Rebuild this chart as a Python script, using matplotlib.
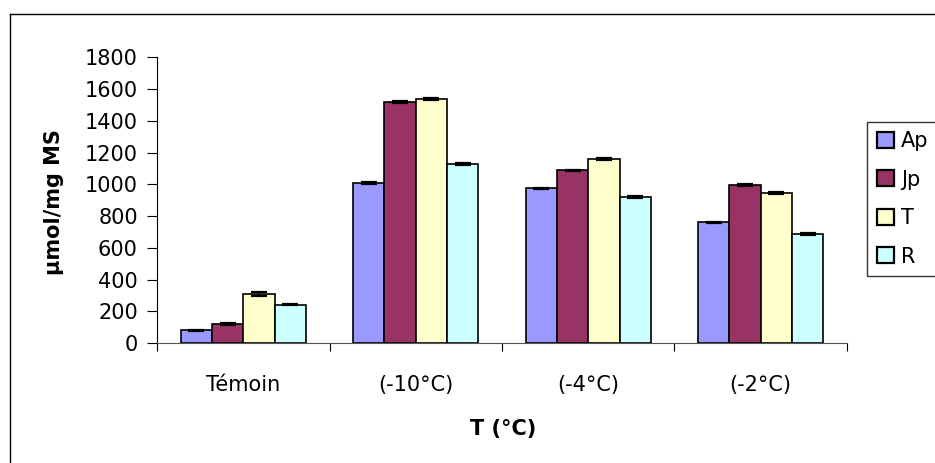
import matplotlib
matplotlib.use("Agg")
import matplotlib.pyplot as plt
import numpy as np
from matplotlib.lines import Line2D

plt.rcParams['font.family'] = ['DejaVu Sans']

categories = ["Témoin", "(-10°C)", "(-4°C)", "(-2°C)"]
series = ["Ap", "Jp", "T", "R"]
values = {
    "Ap": [80, 1009, 974, 760],
    "Jp": [118, 1518, 1088, 993],
    "T":  [309, 1535, 1161, 943],
    "R":  [242, 1129, 919, 686],
}
errors = {
    "Ap": [5, 5, 5, 5],
    "Jp": [7, 5, 5, 6],
    "T":  [15, 6, 5, 6],
    "R":  [5, 5, 5, 5],
}
colors = {"Ap": "#9999FF", "Jp": "#993366", "T": "#FFFFCC", "R": "#CCFFFF"}
yticks = [0, 200, 400, 600, 800, 1000, 1200, 1400, 1600, 1800]

FS = 15
W, H = 935, 463
fig = plt.figure(figsize=(W / 100, H / 100), dpi=100)
# outer chart border (top and left visible, rest cut off)
fig.add_artist(Line2D([9.5 / W, 9.5 / W], [0, 1 - 13.5 / H], transform=fig.transFigure, color="black", lw=1.0))
fig.add_artist(Line2D([9.5 / W, 1.0], [1 - 13.5 / H, 1 - 13.5 / H], transform=fig.transFigure, color="black", lw=1.0))

ax = fig.add_axes([157.3 / W, 120 / H, (846.7 - 157.3) / W, (405.7 - 120) / H])

n = len(series)
bw = 1 / 5.5
x = np.arange(len(categories))
for i, s in enumerate(series):
    pos = x + (i - (n - 1) / 2) * bw
    ax.bar(pos, values[s], width=bw, color=colors[s], edgecolor="black", linewidth=1.2,
           yerr=errors[s], error_kw=dict(ecolor="black", elinewidth=1.2, capsize=6, capthick=1.6),
           label=s, zorder=2)

ax.set_xlim(-0.5, len(categories) - 0.5)
ax.set_ylim(0, 1800)
ax.set_yticks(yticks)
ax.set_yticklabels([str(v) for v in yticks], fontsize=FS)
ax.set_xticks(x)
ax.set_xticklabels(categories, fontsize=FS)
ax.set_xticks(np.arange(len(categories) + 1) - 0.5, minor=True)
ax.tick_params(axis="x", which="major", length=0, pad=23)
ax.tick_params(axis="x", which="minor", length=5.5, direction="out", width=0.8)
ax.tick_params(axis="y", which="major", length=7, direction="out", width=0.8, pad=7)
for sp in ["top", "right"]:
    ax.spines[sp].set_visible(False)
ax.spines["left"].set_linewidth(0.8)
ax.spines["bottom"].set_linewidth(0.8)
ax.spines["bottom"].set_color("#555555")

ax.set_ylabel("µmol/mg MS", fontsize=FS, fontweight="bold")
ax.set_xlabel("T (°C)", fontsize=FS, fontweight="bold")
ax.yaxis.set_label_coords((64 - 157.3) / 689.4, 0.494)
ax.xaxis.set_label_coords(0.502, (343 - 419) / 285.7)

leg = ax.legend(loc="upper left", bbox_to_anchor=(867.3 / W, 1 - 276.7 / H, 0.2, 155 / H),
                bbox_transform=fig.transFigure, mode="expand", frameon=True, fancybox=False,
                fontsize=FS, handlelength=0.85, handleheight=0.8, handletextpad=0.3,
                labelspacing=0.89, borderpad=0.45, borderaxespad=0)
leg.get_frame().set_edgecolor("black")
leg.get_frame().set_linewidth(1.0)
for p in leg.get_patches():
    p.set_linewidth(1.6)

fig.savefig("out.png", dpi=100)
